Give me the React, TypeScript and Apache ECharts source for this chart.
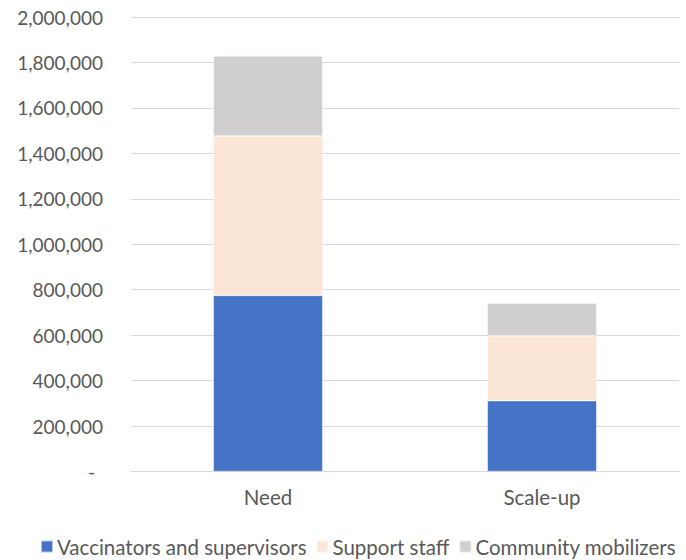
import React, { useEffect, useRef } from "react";
import * as echarts from "echarts";

const categories = ["Need", "Scale-up"];
const vaccinators = [775000, 312000];
const supportStaff = [701000, 285000];
const mobilizers = [353000, 144000];

const FONT = "Lato, 'Liberation Sans', sans-serif";
const TEXT = "#595959";

export default function App() {
  const ref = useRef<HTMLDivElement>(null);

  useEffect(() => {
    if (!ref.current) return;
    const chart = echarts.init(ref.current, undefined, { renderer: "svg" });
    const barStyle = (color: string) => ({
      color,
      borderColor: "rgba(255,255,255,0.6)",
      borderWidth: 0.75,
    });
    chart.setOption({
      animation: false,
      backgroundColor: "#ffffff",
      textStyle: { fontFamily: FONT },
      grid: { left: 131, right: 7, top: 17, bottom: 88.5, containLabel: false },
      legend: {
        bottom: -2,
        left: 35,
        itemWidth: 12,
        itemHeight: 12,
        itemGap: 9,
        icon: "rect",
        textStyle: { color: TEXT, fontSize: 20.5, fontFamily: FONT, padding: [0, 0, 0, -1] },
        data: ["Vaccinators and supervisors", "Support staff", "Community mobilizers"],
      },
      xAxis: {
        type: "category",
        data: categories,
        axisTick: { show: false },
        axisLine: { lineStyle: { color: "#D9D9D9", width: 1 } },
        axisLabel: { color: TEXT, fontSize: 20.5, margin: 15, fontFamily: FONT },
      },
      yAxis: {
        type: "value",
        min: 0,
        max: 2000000,
        interval: 200000,
        axisLine: { show: false },
        axisTick: { show: false },
        splitLine: { lineStyle: { color: "#D9D9D9", width: 1 } },
        axisLabel: {
          color: TEXT,
          fontSize: 19,
          margin: 28,
          fontFamily: FONT,
          formatter: (v: number) =>
            v === 0 ? "{z|-}" : v.toLocaleString("en-US"),
          rich: { z: { color: TEXT, fontSize: 19, fontFamily: FONT, padding: [0, 8, 0, 0] } },
        },
      },
      series: [
        {
          name: "Vaccinators and supervisors",
          type: "bar",
          stack: "total",
          barWidth: "40%",
          data: vaccinators,
          itemStyle: barStyle("#4472C4"),
        },
        {
          name: "Support staff",
          type: "bar",
          stack: "total",
          data: supportStaff,
          itemStyle: barStyle("#FBE5D6"),
        },
        {
          name: "Community mobilizers",
          type: "bar",
          stack: "total",
          data: mobilizers,
          itemStyle: barStyle("#D0CECE"),
        },
      ],
    });
    return () => chart.dispose();
  }, []);

  return (
    <div
      ref={ref}
      style={{ position: "fixed", left: 0, top: 0, width: 686, height: 560 }}
    />
  );
}
